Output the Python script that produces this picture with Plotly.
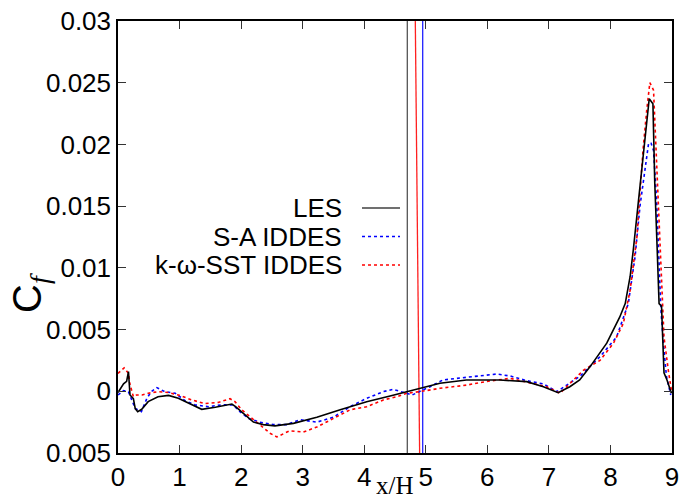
import plotly.graph_objects as go

# ---------------- data ----------------
les_x = [0, 0.05, 0.09, 0.14, 0.17, 0.195, 0.25, 0.28, 0.32, 0.385,
         0.49, 0.65, 0.82, 0.98, 1.14, 1.36, 1.58, 1.85, 1.91, 2.06,
         2.2, 2.36, 2.55, 2.85, 3.23, 3.61, 4.04, 4.42, 4.7, 4.9,
         5.23, 5.66, 6.2, 6.64, 6.91, 7.15, 7.34, 7.5, 7.67, 7.94,
         8.15, 8.24, 8.32, 8.37, 8.45, 8.5, 8.56, 8.63, 8.69, 8.72,
         8.76, 8.79, 8.83, 8.87, 8.92, 8.99]
les_y = [-0.0001, 0.0003, 0.0006, 0.0008, 0.0016, -0.0003, -0.0006, -0.0014, -0.00165, -0.00146,
         -0.00084, -0.00044, -0.00033, -0.00057, -0.00097, -0.00146, -0.0013, -0.00103, -0.00125, -0.0019,
         -0.0025, -0.0027, -0.0028, -0.0026, -0.0021, -0.0015, -0.00084, -0.00038, -0.00003, 0.00024,
         0.00065, 0.00092, 0.00092, 0.00078, 0.00037, -0.00011, 0.00037, 0.00092, 0.002, 0.0039,
         0.006, 0.0071, 0.0093, 0.0114, 0.0152, 0.0173, 0.0204, 0.0237, 0.0233, 0.0169,
         0.0114, 0.0071, 0.0069, 0.0015, 0.0009, -0.00016]

sa_x = [0, 0.09, 0.17, 0.22, 0.28, 0.38, 0.47, 0.54, 0.63, 0.76,
        0.93, 1.09, 1.25, 1.47, 1.68, 1.87, 1.98, 2.12, 2.3, 2.52,
        2.74, 2.96, 3.23, 3.5, 3.77, 4.04, 4.31, 4.47, 4.69, 4.78,
        5.07, 5.28, 5.66, 6.15, 6.37, 6.64, 6.91, 7.13, 7.29, 7.5,
        7.83, 8.1, 8.29, 8.4, 8.48, 8.57, 8.62, 8.66, 8.7, 8.75,
        8.78, 8.82, 8.86, 8.91, 8.98]
sa_y = [-0.0003, 0.00005, -0.00003, -0.0007, -0.0014, -0.00165, -0.00057, -0.00003, 0.0003, -0.00003,
        -0.00016, -0.00076, -0.0011, -0.00125, -0.0011, -0.0011, -0.00165, -0.0022, -0.0025, -0.0027,
        -0.0027, -0.0023, -0.0025, -0.0021, -0.00125, -0.00057, -0.00003, 0.00016, -0.00016, -0.0003,
        0.00037, 0.00092, 0.00113, 0.0014, 0.00124, 0.00086, 0.0006, -0.00003, 0.0005, 0.0012,
        0.0028, 0.0044, 0.0071, 0.0109, 0.015, 0.0185, 0.0201, 0.0201, 0.0195, 0.0155,
        0.0114, 0.0066, 0.0039, 0.0012, -0.0003]

sst_x = [0, 0.1, 0.17, 0.19, 0.25, 0.3, 0.39, 0.49, 0.65, 0.82,
         0.98, 1.2, 1.41, 1.63, 1.82, 1.9, 2.01, 2.17, 2.3, 2.47,
         2.58, 2.79, 3.01, 3.23, 3.5, 3.77, 4.04, 4.31, 4.53, 4.69,
         4.9, 5.23, 5.66, 5.99, 6.37, 6.75, 6.96, 7.18, 7.4, 7.56,
         7.83, 8.05, 8.21, 8.32, 8.43, 8.53, 8.59, 8.64, 8.7, 8.74,
         8.78, 8.82, 8.87, 8.94, 8.99]
sst_y = [0.00145, 0.0019, 0.00145, 0.00065, -0.00044, -0.0003, -0.0003, -0.00016, -0.00003, -0.0001,
         -0.0003, -0.0007, -0.001, -0.0009, -0.0006, -0.00084, -0.0015, -0.0022, -0.0027, -0.0034,
         -0.0037, -0.0032, -0.0033, -0.0029, -0.0022, -0.0015, -0.00125, -0.0007, -0.00044, -0.00016,
         -0.00003, 0.00024, 0.0005, 0.0008, 0.00105, 0.00065, 0.00037, -0.00016, 0.0009, 0.0017,
         0.0025, 0.0039, 0.0055, 0.0082, 0.0125, 0.0196, 0.0228, 0.025, 0.0244, 0.0196,
         0.0141, 0.0093, 0.0044, 0.0017, 0.0001]

# separation-point marker lines (x positions at bottom / top of the frame)
vline_les_x = [4.70, 4.70]
vline_sst_x = [4.90, 4.83]
vline_sa_x = [4.95, 4.95]
vline_y = [-0.005, 0.03]

series_names = ["LES", "S-A IDDES", "k-\u03c9-SST IDDES"]
series_colors = ["#000000", "#0000ff", "#ff0000"]
legend_colors = ["#404040", "#0000ff", "#ff0000"]
series_dash = ["solid", "dot", "dot"]

x_tickvals = [0, 1, 2, 3, 4, 5, 6, 7, 8, 9]
y_tickvals = [-0.005, 0, 0.005, 0.01, 0.015, 0.02, 0.025, 0.03]
y_ticktext = ["0.005", "0", "0.005", "0.01", "0.015", "0.02", "0.025", "0.03"]

# ---------------- figure ----------------
fig = go.Figure()

fig.add_trace(go.Scatter(x=vline_les_x, y=vline_y, mode="lines",
                         line=dict(color="#555555", width=1.3), showlegend=False))
fig.add_trace(go.Scatter(x=vline_sst_x, y=vline_y, mode="lines",
                         line=dict(color="#ff2020", width=1.3), showlegend=False))
fig.add_trace(go.Scatter(x=vline_sa_x, y=vline_y, mode="lines",
                         line=dict(color="#2020ff", width=1.3), showlegend=False))

for xs, ys, col, dash, name in [(sa_x, sa_y, series_colors[1], series_dash[1], series_names[1]),
                                (sst_x, sst_y, series_colors[2], series_dash[2], series_names[2]),
                                (les_x, les_y, series_colors[0], series_dash[0], series_names[0])]:
    fig.add_trace(go.Scatter(x=xs, y=ys, mode="lines", name=name,
                             line=dict(color=col, width=1.6, dash=dash),
                             showlegend=False))

L, R, T, B = 118, 11, 21, 47
W, H = 683, 500
pw, ph = W - L - R, H - T - B

def px_x(p):
    return (p - L) / pw

def px_y(p):
    return (H - B - p) / ph

SANS = "Liberation Sans, Arial, sans-serif"
SERIF = "Liberation Serif, Times New Roman, serif"

# legend made from annotations + sample lines
legend_rows = [208, 236.5, 265]
for name, col, dash, row in zip(series_names, legend_colors, series_dash, legend_rows):
    fig.add_annotation(x=px_x(344), y=px_y(row), xref="paper", yref="paper",
                       text=name, showarrow=False, xanchor="right", yanchor="middle",
                       height=26, valign="middle",
                       font=dict(family=SANS, size=26, color="black"))
    fig.add_shape(type="line", xref="paper", yref="paper",
                  x0=px_x(362), x1=px_x(400), y0=px_y(row), y1=px_y(row),
                  line=dict(color=col, width=1.6, dash=dash))

# y-axis title C_f
fig.add_annotation(x=px_x(30), y=px_y(293), xref="paper", yref="paper",
                   text="C<sub><i><span style='font-family:Liberation Serif'>f</span></i></sub>",
                   textangle=-90, showarrow=False,
                   xanchor="center", yanchor="middle",
                   font=dict(family=SANS, size=40, color="black"))

# x-axis title
fig.add_annotation(x=0.5, y=px_y(485), xref="paper", yref="paper",
                   text="x/H", showarrow=False, xanchor="center", yanchor="middle",
                   height=22, valign="middle",
                   font=dict(family=SERIF, size=25, color="black"))

axis_common = dict(showgrid=False, zeroline=False, showline=True, linecolor="black",
                   linewidth=1.5, mirror="ticks", ticks="inside", ticklen=8,
                   tickcolor="#333333", tickwidth=1.3, automargin=False,
                   tickfont=dict(family=SANS, size=26, color="black"))

fig.update_xaxes(range=[0, 9], tickvals=x_tickvals, **axis_common)
fig.update_yaxes(range=[-0.005, 0.03], tickvals=y_tickvals, ticktext=y_ticktext, **axis_common)

fig.update_layout(width=W, height=H, margin=dict(l=L, r=R, t=T, b=B),
                  plot_bgcolor="white", paper_bgcolor="white", showlegend=False)

fig.write_html("out.html")
